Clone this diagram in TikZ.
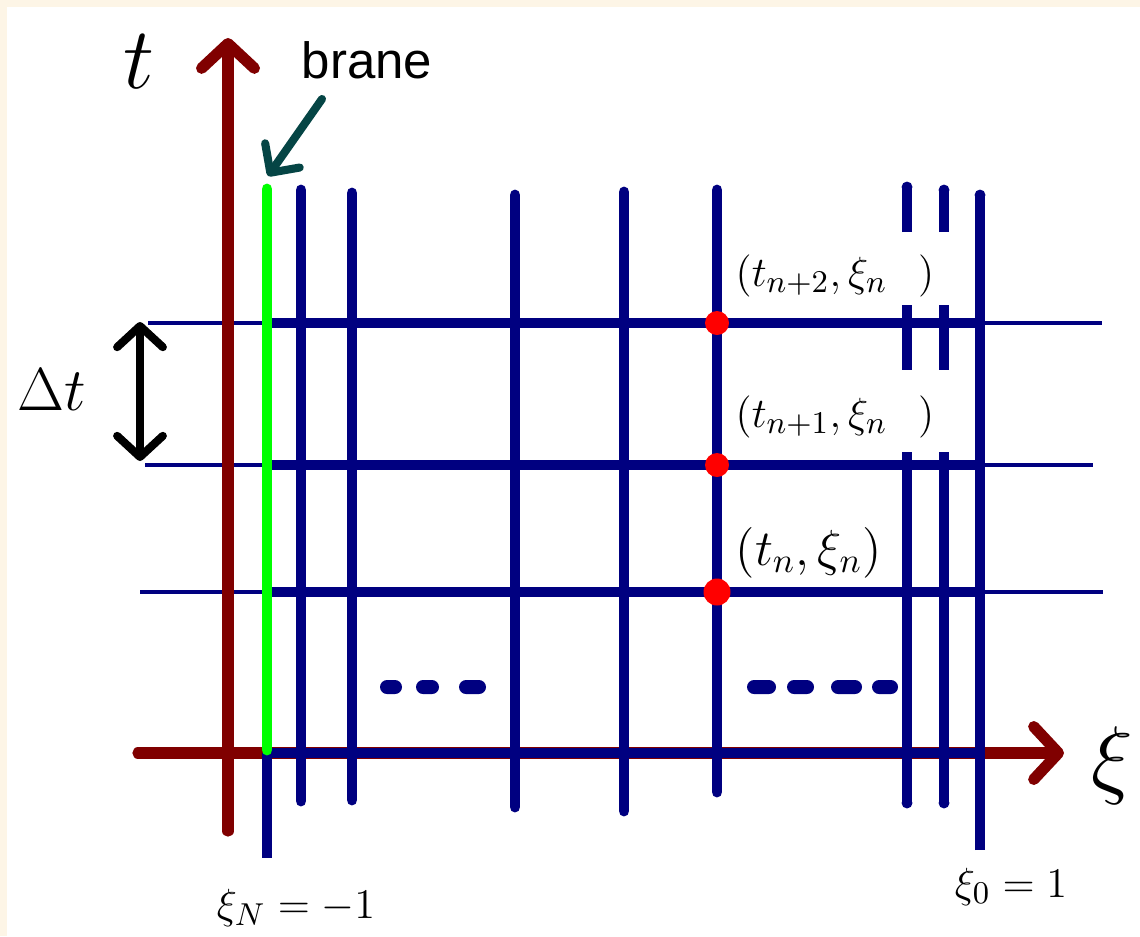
\documentclass[tikz,border=0pt]{standalone}
\usepackage{fontspec}
\newfontfamily\branefont{Liberation Sans}
\usepackage{amsmath}
\usepackage{tikz}
\usetikzlibrary{arrows.meta}
\definecolor{axisRed}{HTML}{800000}
\definecolor{gridBlue}{HTML}{000080}
\definecolor{braneGreen}{HTML}{00FF00}
\definecolor{pointerTeal}{HTML}{054545}
\definecolor{frameCream}{HTML}{FDF5E6}

\begin{document}
\begin{tikzpicture}[x=0.01cm, y=-0.01cm,
    thinline/.style={gridBlue, line width=1.2pt},
    gridline/.style={gridBlue, line width=3.1pt},
    slicecap/.style={gridline, line cap=round},
    axisline/.style={axisRed, line width=3.2pt, line cap=round,
        -{Straight Barb[round, length=7pt, width=15pt]}},
    dtarrow/.style={black, line width=2.3pt,
        {Straight Barb[round, length=6pt, width=13pt]}-{Straight Barb[round, length=6pt, width=13pt]}},
    pointer/.style={pointerTeal, line width=2.3pt, line cap=round,
        -{Straight Barb[round, length=6pt, width=12pt]}},
    dot/.style={fill=red}
]
    % ══════════════════════════════════════════════
    % ══ FONDO ══
    % ══════════════════════════════════════════════
    \fill[frameCream] (0,0) rectangle (1140,936);
    \fill[white] (7,7) rectangle (1140,936);
    \useasboundingbox (0,0) rectangle (1140,936);

    % Lineas finas de tiempo (debajo de los ejes)
    \draw[thinline] (148,323) -- (1102,323);
    \draw[thinline] (145,465) -- (1093,465);
    \draw[thinline] (140,592) -- (1103,592);

    % ══════════════════════════════════════════════
    % ══ EJES ══
    % ══════════════════════════════════════════════
    \coordinate (tBase) at (228,831);
    \coordinate (tTip) at (228,38);
    \coordinate (xiBase) at (138,753);
    \coordinate (xiTip) at (1064,753);
    \draw[axisline] (tBase) -- (tTip);
    \draw[axisline] (xiBase) -- (xiTip);
    \node[font=\fontsize{24}{28}\selectfont] (tlab) at (139,62) {$t$};
    \node[font=\fontsize{24}{28}\selectfont] (xilab) at (1112,766) {$\xi$};

    % ══════════════════════════════════════════════
    % ══ MALLA ══
    % ══════════════════════════════════════════════

    % Lineas gruesas horizontales
    \foreach \y in {323,465,592,753}
        \draw[gridline] (267,\y) -- (980,\y);

    % Lineas verticales (x, arriba, abajo)
    \foreach \x/\top/\bot in {301/190/801, 352/193/800, 515/195/807, 624/192/811, 717/190/792}
        \draw[slicecap] (\x,\top) -- (\x,\bot);

    % Extremo xi_N (debajo de la brana)
    \draw[gridline] (267,753) -- (267,858);

    % Extremo xi_0
    \draw[gridline] (980,850) -- (980,195);
    \fill[gridBlue] (980,195) circle (1.55pt);

    % Lineas cortadas cerca del borde
    \foreach \x/\top in {907/187, 944/190} {
        \draw[gridline] (\x,232) -- (\x,\top);
        \fill[gridBlue] (\x,\top) circle (1.55pt);
        \draw[gridline] (\x,305) -- (\x,370);
        \draw[gridline] (\x,452) -- (\x,803);
        \fill[gridBlue] (\x,803) circle (1.55pt);
    }

    % Puntos suspensivos
    \foreach \a/\b in {380/402, 416/439, 459/486, 747/776, 787/814, 831/862, 872/898}
        \fill[gridBlue, rounded corners=2pt] (\a,680) rectangle (\b,694);

    % ══════════════════════════════════════════════
    % ══ BRANA ══
    % ══════════════════════════════════════════════
    \draw[braneGreen, line width=3.1pt, line cap=round] (267,189) -- (267,750);
    \coordinate (braneTop) at (268,176);
    \coordinate (braneTail) at (322,99);
    \draw[pointer] (braneTail) -- (braneTop);
    \node[font=\branefont\fontsize{14.5}{17}\selectfont, anchor=base] (branelab) at (367,78) {brane};

    % ══════════════════════════════════════════════
    % ══ PUNTOS Y ETIQUETAS ══
    % ══════════════════════════════════════════════
    \fill[dot] (717,323) circle (12);
    \fill[dot] (717,465) circle (12);
    \fill[dot] (717,592) circle (13.5);
    \node[font=\fontsize{12.5}{15}\selectfont, anchor=base west, inner sep=0pt] (ptop) at (735,286) {$(t_{n+2},\xi_n\;\;\,)$};
    \node[font=\fontsize{12.5}{15}\selectfont, anchor=base west, inner sep=0pt] (pmid) at (735,427) {$(t_{n+1},\xi_n\;\;\,)$};
    \node[font=\fontsize{14.5}{17}\selectfont, anchor=base west, inner sep=0pt] (pbot) at (735,565) {$(t_n,\xi_n)$};

    % ══════════════════════════════════════════════
    % ══ PASO DE TIEMPO ══
    % ══════════════════════════════════════════════
    \coordinate (dtTop) at (140,322);
    \coordinate (dtBot) at (140,461);
    \draw[dtarrow] (dtBot) -- (dtTop);
    \node[font=\fontsize{17}{20}\selectfont] (dtlab) at (52,390) {$\Delta t$};

    % Extremos del dominio
    \node[font=\fontsize{13}{15}\selectfont, anchor=base] (xiNlab) at (296,918) {$\xi_N=-1$};
    \node[font=\fontsize{13}{15}\selectfont, anchor=base] (xi0lab) at (1011,897) {$\xi_0=1$};

\end{tikzpicture}
\end{document}
